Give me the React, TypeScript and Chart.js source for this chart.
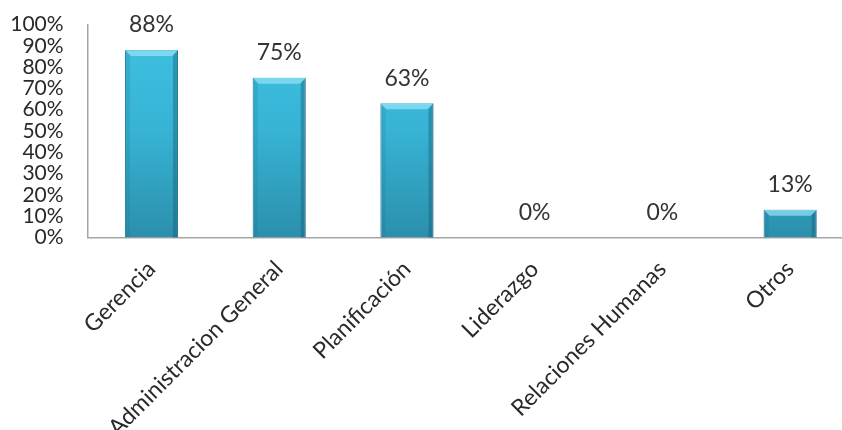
import React, { useEffect, useRef } from "react";
import { Chart, registerables } from "chart.js";

Chart.register(...registerables);

const categories = [
  "Gerencia",
  "Administracion General",
  "Planificación",
  "Liderazgo",
  "Relaciones Humanas",
  "Otros",
];
const values = [88, 75, 63, 0, 0, 13];
const yTicks = [0, 10, 20, 30, 40, 50, 60, 70, 80, 90, 100];

const FONT = "Lato, 'Open Sans', sans-serif";
const TEXT = "#2a2a2a";

const dataLabelPlugin = {
  id: "dataLabels",
  afterDatasetsDraw(chart: any) {
    const ctx = chart.ctx;
    const meta = chart.getDatasetMeta(0);
    ctx.save();
    ctx.font = `23px ${FONT}`;
    ctx.fillStyle = "#333333";
    ctx.textAlign = "center";
    ctx.textBaseline = "middle";
    meta.data.forEach((bar: any, i: number) => {
      ctx.fillText(values[i] + "%", bar.x, bar.y - 25);
    });
    ctx.restore();
  },
};

const bevelPlugin = {
  id: "bevel",
  afterDatasetsDraw(chart: any) {
    const ctx = chart.ctx;
    const meta = chart.getDatasetMeta(0);
    ctx.save();
    meta.data.forEach((bar: any) => {
      const { x, y, base, width } = bar;
      const h = base - y;
      if (h < 2) return;
      const l = x - width / 2;
      const r = x + width / 2;
      const b = Math.min(6, h / 2);
      ctx.fillStyle = "rgba(150,228,248,0.7)";
      ctx.beginPath();
      ctx.moveTo(l, y);
      ctx.lineTo(r, y);
      ctx.lineTo(r - b, y + b);
      ctx.lineTo(l + b, y + b);
      ctx.closePath();
      ctx.fill();
      ctx.fillStyle = "rgba(20,90,115,0.4)";
      ctx.beginPath();
      ctx.moveTo(r, y);
      ctx.lineTo(r, base);
      ctx.lineTo(r - b + 1, base);
      ctx.lineTo(r - b + 1, y + b);
      ctx.closePath();
      ctx.fill();
      ctx.fillStyle = "rgba(30,110,140,0.2)";
      ctx.beginPath();
      ctx.moveTo(l, y);
      ctx.lineTo(l + b - 1, y + b);
      ctx.lineTo(l + b - 1, base);
      ctx.lineTo(l, base);
      ctx.closePath();
      ctx.fill();
    });
    ctx.restore();
  },
};

export default function App() {
  const ref = useRef<HTMLCanvasElement>(null);
  useEffect(() => {
    if (!ref.current) return;
    const chart = new Chart(ref.current, {
      type: "bar",
      data: {
        labels: categories,
        datasets: [
          {
            data: values,
            backgroundColor: (c: any) => {
              const area = c.chart.chartArea;
              if (!area) return "#36b2d4";
              const g = c.chart.ctx.createLinearGradient(0, area.top, 0, area.bottom);
              g.addColorStop(0, "#3fc2e3");
              g.addColorStop(0.5, "#37b3d4");
              g.addColorStop(1, "#2b8fac");
              return g;
            },
            borderColor: "#2a8aa6",
            borderWidth: 1,
            borderSkipped: "bottom",
            barPercentage: 0.415,
            categoryPercentage: 1,
          },
        ],
      },
      options: {
        animation: false,
        responsive: true,
        maintainAspectRatio: false,
        layout: { padding: { top: 24.5, right: 0, left: 0, bottom: 0 } },
        plugins: {
          legend: { display: false },
          tooltip: { enabled: false },
        },
        scales: {
          x: {
            grid: { display: false, drawTicks: false },
            border: { display: true, color: "#a6a6a6", width: 1.5 },
            ticks: {
              maxRotation: 45,
              minRotation: 45,
              autoSkip: false,
              padding: 18,
              color: TEXT,
              font: { family: FONT, size: 23 },
            },
            afterFit: (s: any) => {
              s.height = 430 - 237.5;
              s.paddingLeft = 0;
              s.paddingRight = 0;
            },
          },
          y: {
            min: 0,
            max: 100,
            afterBuildTicks: (s: any) => {
              s.ticks = yTicks.map((v) => ({ value: v }));
            },
            grid: { display: false, drawTicks: false },
            border: { display: true, color: "#a6a6a6", width: 1.5 },
            ticks: {
              autoSkip: false,
              padding: 24,
              color: TEXT,
              font: { family: FONT, size: 21, lineHeight: 1 },
              callback: (v: any) => v + "%",
            },
            afterFit: (s: any) => {
              s.width = 87.6;
              s.paddingTop = 0;
              s.paddingBottom = 0;
            },
          },
        },
      },
      plugins: [bevelPlugin, dataLabelPlugin],
    });
    return () => chart.destroy();
  }, []);
  return (
    <div style={{ position: "fixed", left: 0, top: 0, width: 842, height: 430, overflow: "hidden", background: "#fff" }}>
      <div style={{ position: "absolute", left: 0, top: 0, width: 854, height: 430 }}>
        <canvas ref={ref} />
      </div>
    </div>
  );
}
